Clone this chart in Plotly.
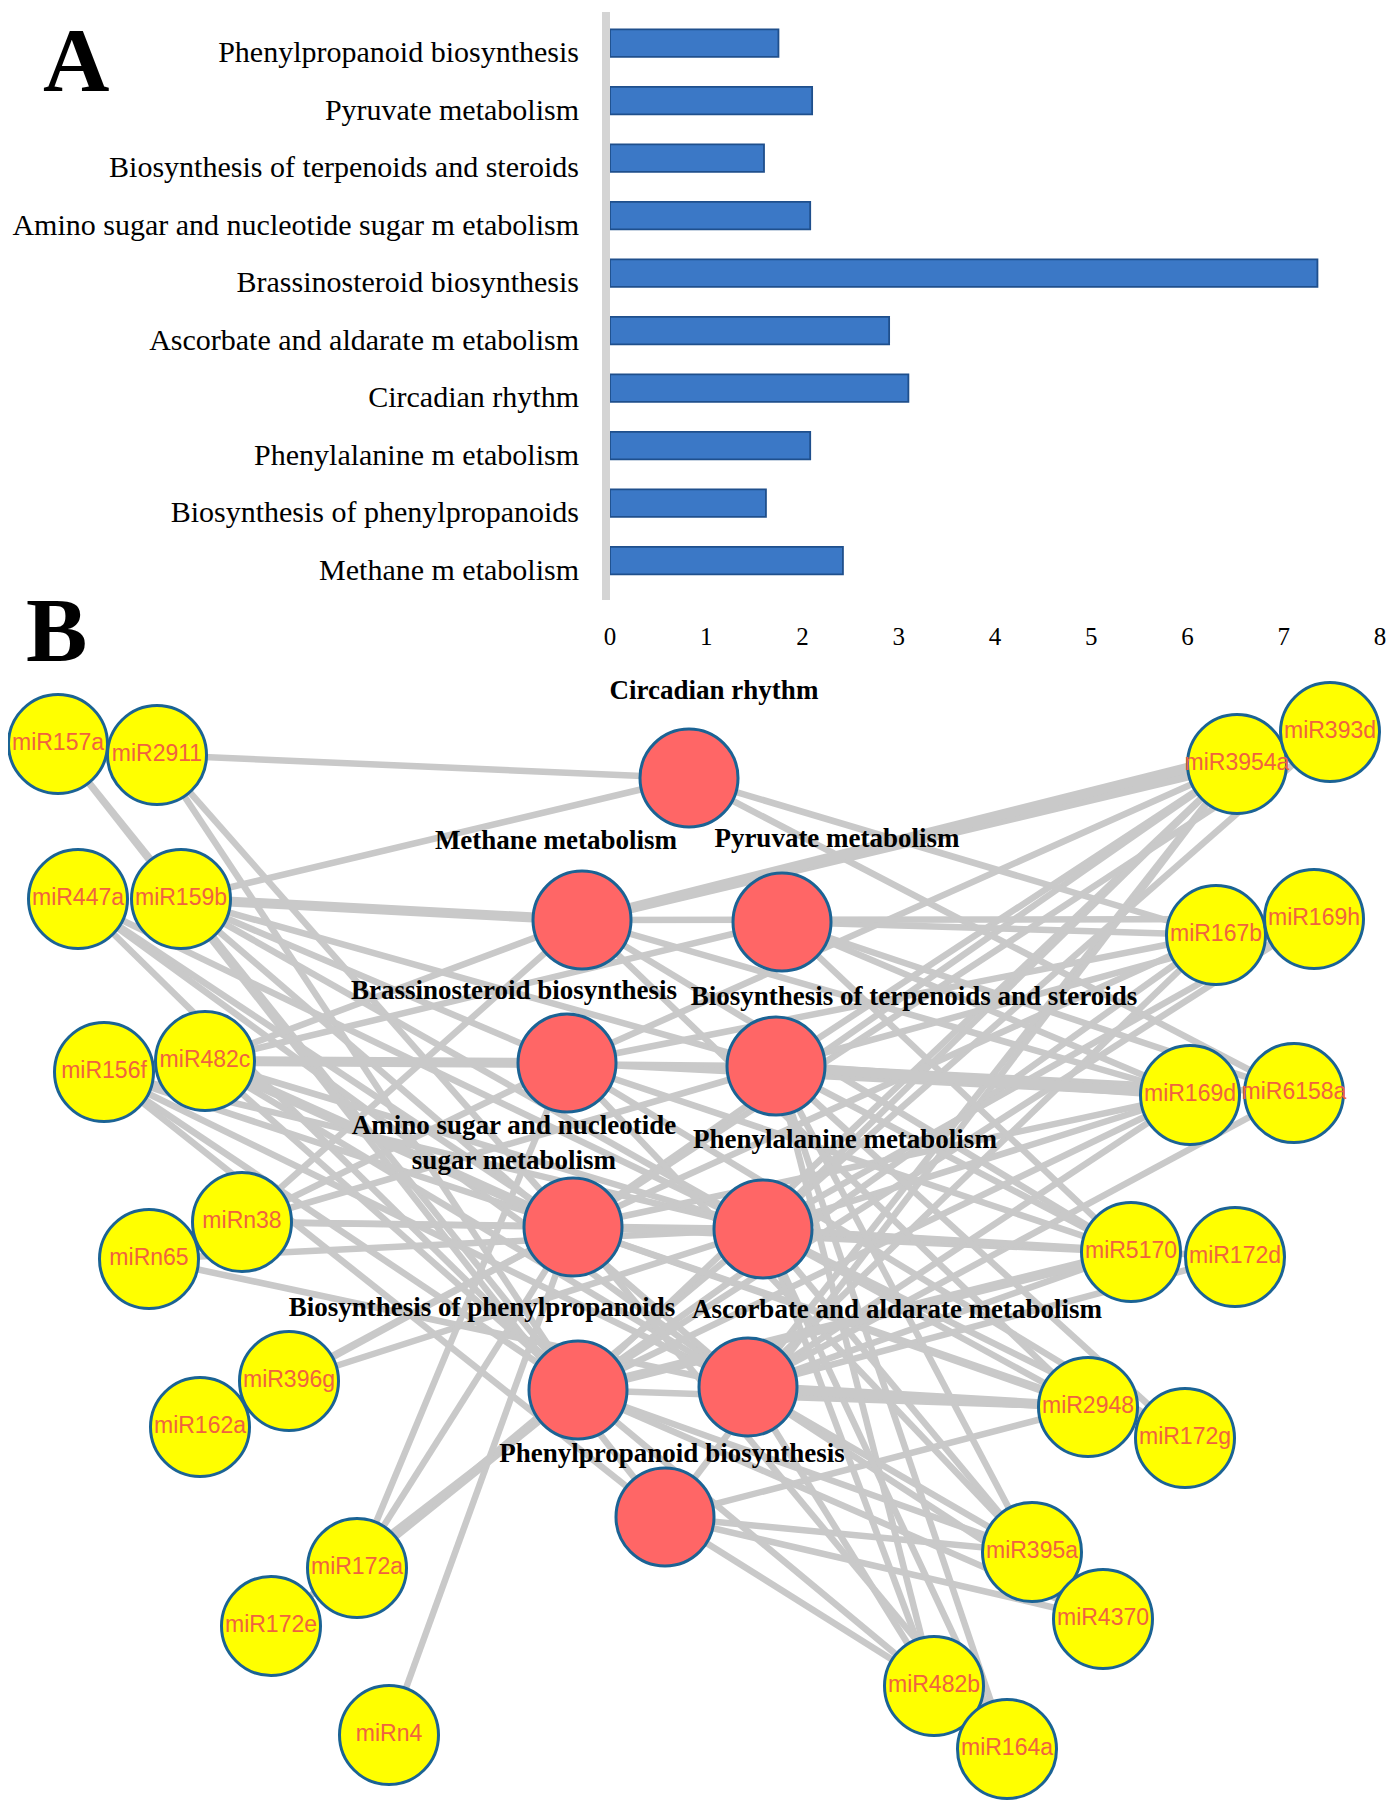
import plotly.graph_objects as go

# ---------------- Panel A data ----------------
pathways = [
    "Phenylpropanoid biosynthesis",
    "Pyruvate metabolism",
    "Biosynthesis of terpenoids and steroids",
    "Amino sugar and nucleotide sugar m etabolism",
    "Brassinosteroid biosynthesis",
    "Ascorbate and aldarate m etabolism",
    "Circadian rhythm",
    "Phenylalanine m etabolism",
    "Biosynthesis of phenylpropanoids",
    "Methane m etabolism",
]
values = [1.75, 2.1, 1.6, 2.08, 7.35, 2.9, 3.1, 2.08, 1.62, 2.42]
x_ticks = [0, 1, 2, 3, 4, 5, 6, 7, 8]

# ---------------- Panel B data (network layout, page-pixel space) ----------------
path_codes = ["CR", "MM", "PM", "BB", "BT", "AS", "PA", "BP", "AA", "PB"]
path_labels = [
    "Circadian rhythm",
    "Methane metabolism",
    "Pyruvate metabolism",
    "Brassinosteroid biosynthesis",
    "Biosynthesis of terpenoids and steroids",
    "Amino sugar and nucleotide<br>sugar metabolism",
    "Phenylalanine metabolism",
    "Biosynthesis of phenylpropanoids",
    "Ascorbate and aldarate metabolism",
    "Phenylpropanoid biosynthesis",
]
path_x = [689, 582, 782, 567, 776, 573, 763, 578, 748, 665]
path_y = [778, 920, 922, 1063, 1066, 1227, 1229, 1390, 1387, 1517]
path_label_x = [714, 556, 837, 514, 914, 514, 845, 482, 897, 672]
path_label_y = [692, 842, 840, 992, 998, 1145, 1141, 1309, 1311, 1455]

mirnas = ["miR157a", "miR2911", "miR447a", "miR159b", "miR156f", "miR482c",
          "miRn65", "miRn38", "miR162a", "miR396g", "miR172a", "miR172e", "miRn4",
          "miR3954a", "miR393d", "miR167b", "miR169h", "miR169d", "miR6158a",
          "miR5170", "miR172d", "miR2948", "miR172g", "miR395a", "miR4370",
          "miR482b", "miR164a"]
mir_x = [58, 157, 78, 181, 104, 205, 149, 242, 200, 289, 357, 271, 389,
         1237, 1330, 1216, 1314, 1190, 1294, 1131, 1235, 1088, 1185, 1032, 1103,
         934, 1007]
mir_y = [744, 755, 899, 899, 1072, 1061, 1259, 1222, 1427, 1381, 1568, 1626, 1735,
         764, 732, 935, 919, 1095, 1093, 1252, 1257, 1407, 1438, 1552, 1619,
         1686, 1749]

edges = {
    "miR157a": ["BP", "PB"],
    "miR2911": ["CR", "AS", "BP"],
    "miR447a": ["AS", "BP", "AA", "PA"],
    "miR159b": ["CR", "MM", "BB", "BT", "PA", "AA"],
    "miR156f": ["AS", "BP", "PA", "AA", "PB"],
    "miR482c": ["MM", "BB", "PM", "BT", "AS", "PA", "BP", "AA"],
    "miRn65": ["PA", "AA"],
    "miRn38": ["MM", "BB", "BT", "AS", "PA"],
    "miR162a": ["AS"],
    "miR396g": ["AS", "PA"],
    "miR172a": ["BP", "AS", "BB", "PA"],
    "miR172e": ["BP"],
    "miRn4": ["AS"],
    "miR3954a": ["MM", "BB", "AS", "BP", "PA", "AA", "PB", "BT"],
    "miR393d": ["MM", "AS", "PA"],
    "miR167b": ["PM", "BB", "AS", "BP", "AA", "CR"],
    "miR169h": ["BT", "PA", "BP", "MM"],
    "miR169d": ["BT", "BB", "MM", "PA", "AS", "BP", "AA", "PM"],
    "miR6158a": ["PM", "CR", "AA", "BT"],
    "miR5170": ["AS", "PA", "BP", "AA", "BB", "BT", "MM", "PM"],
    "miR172d": ["PA", "AA"],
    "miR2948": ["AA", "BP", "PB", "PA", "AS", "MM"],
    "miR172g": ["PA", "BT", "AS", "BB"],
    "miR395a": ["AA", "BP", "PA", "PB", "BT", "BB"],
    "miR4370": ["PB", "AA", "BP"],
    "miR482b": ["PB", "BP", "AA", "PA", "BT"],
    "miR164a": ["BT", "PA", "AS"],
}
thick_edges = [("miR159b", "MM"), ("miR482c", "BB"), ("miR3954a", "MM"),
               ("miR393d", "MM"), ("miR169d", "BT"), ("miR2948", "AA"),
               ("miR5170", "BP"), ("miR482c", "AS")]

# ---------------- build figure ----------------
fig = go.Figure()

# Panel A bars
fig.add_trace(go.Bar(
    x=values, y=pathways, orientation="h",
    marker=dict(color="#3b78c6", line=dict(color="#1f4f8c", width=1.8)),
    width=0.48, offset=-0.39, xaxis="x", yaxis="y", hoverinfo="skip", showlegend=False,
))

# Panel B edges
pidx = {c: i for i, c in enumerate(path_codes)}
midx = {m: i for i, m in enumerate(mirnas)}
ex, ey, tx, ty = [], [], [], []
for m, plist in edges.items():
    for p in plist:
        a = midx[m]
        b = pidx[p]
        if (m, p) in thick_edges:
            tx += [mir_x[a], path_x[b], None]
            ty += [mir_y[a], path_y[b], None]
        else:
            ex += [mir_x[a], path_x[b], None]
            ey += [mir_y[a], path_y[b], None]
fig.add_trace(go.Scatter(x=ex, y=ey, mode="lines", xaxis="x2", yaxis="y2",
                         line=dict(color="#c9c9c9", width=6.5),
                         hoverinfo="skip", showlegend=False))
fig.add_trace(go.Scatter(x=tx, y=ty, mode="lines", xaxis="x2", yaxis="y2",
                         line=dict(color="#c9c9c9", width=10),
                         hoverinfo="skip", showlegend=False))

# pathway nodes
fig.add_trace(go.Scatter(x=path_x, y=path_y, mode="markers", xaxis="x2", yaxis="y2",
                         marker=dict(size=98, color="#ff6666",
                                     line=dict(color="#1b6394", width=3)),
                         hoverinfo="skip", showlegend=False))
# miRNA nodes
fig.add_trace(go.Scatter(x=mir_x, y=mir_y, mode="markers+text", xaxis="x2", yaxis="y2",
                         text=mirnas, textposition="middle center", cliponaxis=False,
                         textfont=dict(family="Liberation Sans, Arial", size=23,
                                       color="#f0633f"),
                         marker=dict(size=99, color="#ffff00",
                                     line=dict(color="#1b6394", width=3)),
                         hoverinfo="skip", showlegend=False))
# pathway labels
fig.add_trace(go.Scatter(x=path_label_x, y=path_label_y, mode="text", xaxis="x2", yaxis="y2",
                         text=["<b>%s</b>" % t for t in path_labels],
                         textposition="middle center", cliponaxis=False,
                         textfont=dict(family="Liberation Serif, Times New Roman", size=27,
                                       color="#000000"),
                         hoverinfo="skip", showlegend=False))

# page body has an 8 px margin: plot pixel p appears at page pixel p + 8
OFF = 8
PW, PH = 1395, 1808
W, H = PW - OFF, PH - OFF

letter_font = dict(family="Liberation Serif, Times New Roman", size=92, color="#000000")
annotations = [
    dict(text="<b>A</b>", xref="paper", yref="paper", x=(76 - OFF) / W, y=1.0,
         xanchor="center", yanchor="top", showarrow=False, borderpad=0,
         font=letter_font),
    dict(text="<b>B</b>", xref="x2", yref="y2", x=56, y=630,
         xanchor="center", yanchor="middle", showarrow=False, borderpad=0,
         font=letter_font),
]

fig.update_layout(
    width=W, height=H,
    margin=dict(l=0, r=0, t=0, b=0, autoexpand=False),
    paper_bgcolor="white", plot_bgcolor="rgba(0,0,0,0)",
    annotations=annotations,
    xaxis=dict(domain=[(610 - OFF) / W, (1380 - OFF) / W], range=[0, 8], anchor="y",
               automargin=False,
               tickvals=x_ticks, ticktext=[str(t) for t in x_ticks],
               showgrid=False, zeroline=False, showline=False, ticks="",
               ticklabelstandoff=21,
               tickfont=dict(family="Liberation Serif, Times New Roman", size=25,
                             color="#000000")),
    yaxis=dict(domain=[1 - (598 - OFF) / H, 1 - (23 - OFF) / H], range=[9.5, -0.5],
               anchor="x", automargin=False,
               type="category", showgrid=False, zeroline=False, showline=False,
               ticks="", ticklabelstandoff=30,
               tickfont=dict(family="Liberation Serif, Times New Roman", size=30,
                             color="#000000")),
    xaxis2=dict(domain=[0, 1], range=[OFF, OFF + W], anchor="y2", visible=False,
                automargin=False),
    yaxis2=dict(domain=[0, 1], range=[OFF + H, OFF], anchor="x2", visible=False,
                automargin=False),
    shapes=[dict(type="rect", xref="x2", yref="y2", x0=602, x1=610, y0=12, y1=600,
                 fillcolor="#d4d4d4", line=dict(width=0), layer="below")],
)

fig.write_html("out.html")
